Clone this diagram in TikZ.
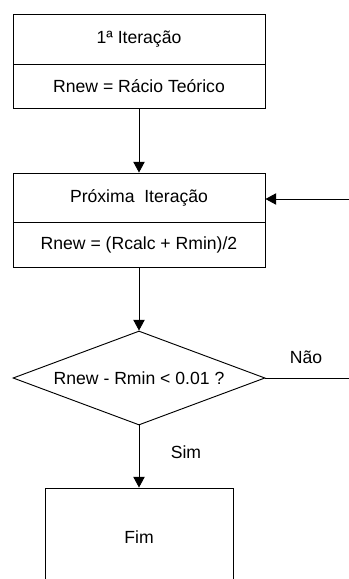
\documentclass[tikz,border=0pt]{standalone}
\usepackage{fontspec}
\setmainfont{Liberation Sans}
\usetikzlibrary{shapes.geometric, arrows.meta}

\begin{document}
\begin{tikzpicture}[x=0.75pt, y=-0.75pt, line width=0.7pt,
	every node/.style={font=\fontsize{13.2}{15}\selectfont, inner sep=0pt},
	box/.style={rectangle, draw, minimum width=189pt},
	test/.style={diamond, draw, aspect=2.68, minimum width=189pt, minimum height=70.5pt},
	seta/.style={-{Triangle[length=8pt, width=8.5pt]}}]
	\useasboundingbox (0,0) rectangle (349,579);
	\clip (0,0) rectangle (349,579);
	\node[box, minimum height=37.5pt] (it1) at (139,39) {1ª Iteração};
	\node[box, minimum height=33pt] (it2) at (139,86) {Rnew = Rácio Teórico};
	\node[box, minimum height=36.75pt] (nx1) at (139,197.5) {Próxima\ \ Iteração};
	\node[box, minimum height=33.75pt] (nx2) at (139,244.5) {Rnew = (Rcalc + Rmin)/2};
	\node[test] (cond) at (139,378) {Rnew - Rmin < 0.01 ?};
	\node[box, minimum width=141pt, minimum height=73.5pt] (fim) at (139,537) {Fim};
	\node (nao) at (306,357) {Não};
	\node (sim) at (186,452) {Sim};
	\coordinate (volta) at (349,199);
	\coordinate (saida) at (349,378);
	\draw[seta] (it2) -- (nx1);
	\draw[seta] (nx2) -- (cond);
	\draw[seta] (cond) -- (fim);
	\draw (cond.east) -- (saida);
	\draw[seta] (volta) -- (nx1.east |- volta);
\end{tikzpicture}
\end{document}
